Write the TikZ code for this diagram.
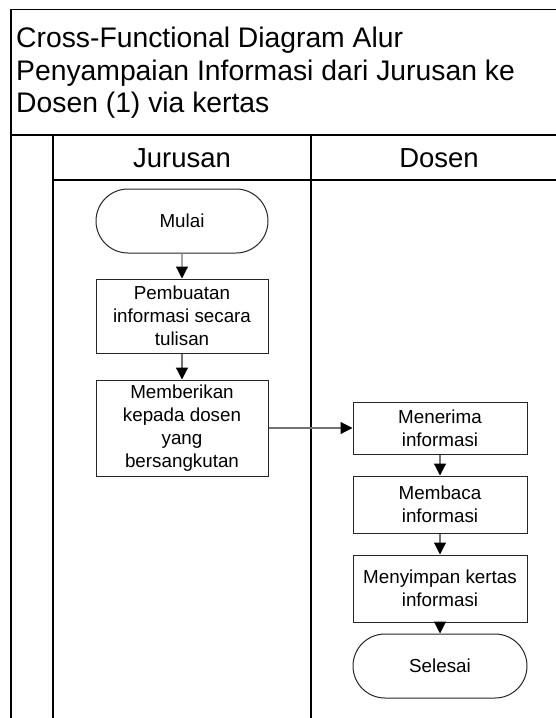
\documentclass[tikz,border=0pt]{standalone}
\usepackage{fontspec}
\setmainfont{Liberation Sans}
\usetikzlibrary{arrows.meta,shapes.misc}
\tikzset{
  lane/.style={line width=1.3pt,draw=black},
  procbox/.style={draw=black!85,line width=1pt,fill=white,align=center,inner sep=0pt,
    font=\fontsize{18.8}{23}\selectfont,minimum width=172pt},
  termbox/.style={procbox,rounded rectangle},
  flow/.style={draw=black!55,line width=1.2pt,-{Triangle[length=12pt,width=12pt,black]}},
  lanehead/.style={font=\fontsize{27.5}{32}\selectfont,inner sep=0pt}
}
\begin{document}
\begin{tikzpicture}[x=1pt,y=-1pt]
\useasboundingbox (0,0) rectangle (556,718);
\clip (0,0) rectangle (556,718);
% frame
\draw[lane] (11,9.5) rectangle (567,135);
\draw[lane] (11,135) -- (11,730);
\draw[lane] (53,135) -- (53,730);
\draw[lane] (311,135) -- (311,730);
\draw[lane] (567,135) -- (567,730);
\draw[lane] (53,180) -- (567,180);
\node[anchor=north west,align=left,inner sep=0pt,font=\fontsize{28.3}{32.5}\selectfont] (title) at (16,27)
  {Cross-Functional Diagram Alur\\Penyampaian Informasi dari Jurusan ke\\Dosen (1) via kertas};
\node[lanehead] (hj) at (182,158) {Jurusan};
\node[lanehead] (hd) at (439,158) {Dosen};
% nodes
\node[termbox,minimum height=64pt] (mulai) at (182,221) {Mulai};
\node[procbox,minimum height=74pt] (buat) at (182,316) {Pembuatan\\informasi secara\\tulisan};
\node[procbox,minimum height=96pt] (beri) at (182,428) {Memberikan\\kepada dosen\\yang\\bersangkutan};
\node[procbox,minimum width=174pt,minimum height=52pt] (terima) at (440,428) {Menerima\\informasi};
\node[procbox,minimum width=174pt,minimum height=57pt] (baca) at (440,504.5) {Membaca\\informasi};
\node[procbox,minimum width=174pt,minimum height=67pt] (simpan) at (440,588.5) {Menyimpan kertas\\informasi};
\node[termbox,minimum width=174pt,minimum height=64pt] (selesai) at (440,666) {Selesai};
% connectors
\draw[flow] (mulai) -- (buat);
\draw[flow] (buat) -- (beri);
\draw[flow] (beri) -- (terima);
\draw[flow] (terima) -- (baca);
\draw[flow] (baca) -- (simpan);
\draw[flow] (simpan) -- (selesai);
\end{tikzpicture}
\end{document}
